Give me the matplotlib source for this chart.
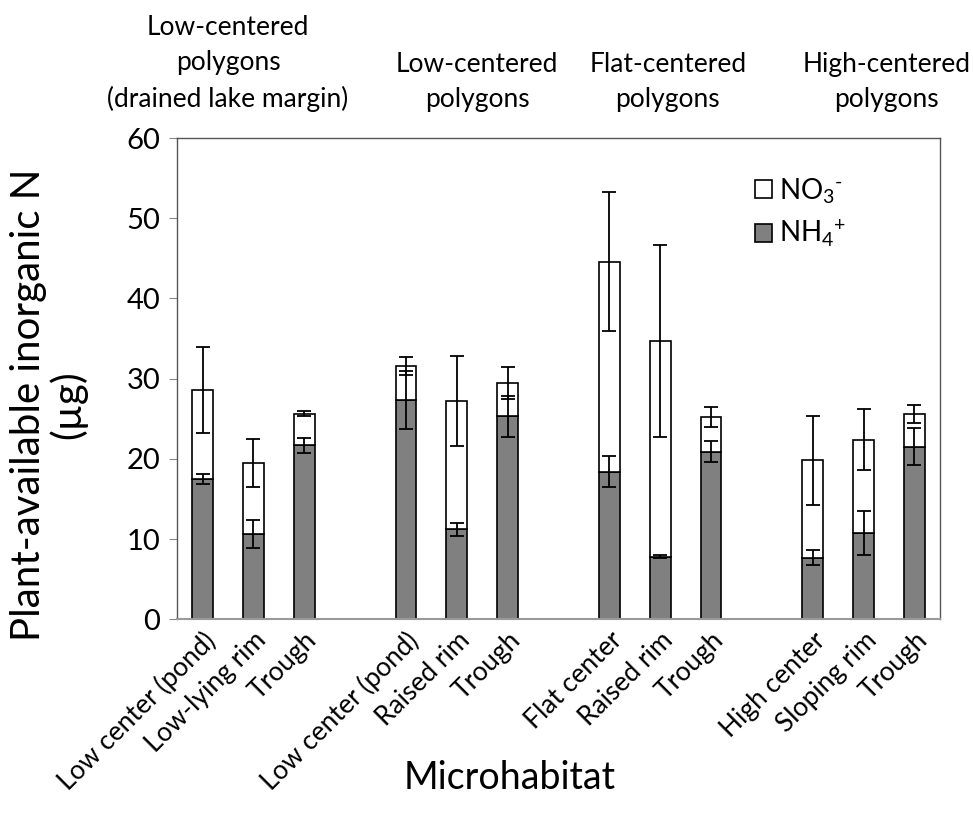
import matplotlib
matplotlib.use("Agg")
import matplotlib.pyplot as plt
import numpy as np

plt.rcParams['font.family'] = ['Lato', 'DejaVu Sans']
plt.rcParams['mathtext.fontset'] = 'custom'
plt.rcParams['mathtext.rm'] = 'Lato'
plt.rcParams['mathtext.it'] = 'Lato'

# data
microhabitats = ["Low center (pond)", "Low-lying rim", "Trough",
                 "Low center (pond)", "Raised rim", "Trough",
                 "Flat center", "Raised rim", "Trough",
                 "High center", "Sloping rim", "Trough"]
groups = ["Low-centered\npolygons\n(drained lake margin)",
          "Low-centered\npolygons",
          "Flat-centered\npolygons",
          "High-centered\npolygons"]
nh4 = [17.5, 10.6, 21.7, 27.3, 11.2, 25.3, 18.4, 7.8, 20.9, 7.7, 10.8, 21.5]
nh4_err = [0.65, 1.75, 0.93, 3.6, 0.8, 2.6, 1.9, 0.2, 1.3, 0.95, 2.75, 2.3]
total = [28.6, 19.5, 25.65, 31.6, 27.2, 29.5, 44.6, 34.7, 25.2, 19.8, 22.4, 25.6]
total_err = [5.35, 2.95, 0.35, 1.1, 5.6, 2.0, 8.7, 12.0, 1.25, 5.6, 3.8, 1.1]

no3 = np.array(total) - np.array(nh4)
x = np.array([0, 1, 2, 4, 5, 6, 8, 9, 10, 12, 13, 14])

fig = plt.figure(figsize=(9.73, 8.17), dpi=100)
ax = fig.add_axes([0.182, 0.242, 0.784, 0.589])

w = 0.41
ax.bar(x, nh4, w, color="#808080", edgecolor="black", linewidth=1.2,
       label="NH$_4$$^{+}$", zorder=2)
ax.bar(x, no3, w, bottom=nh4, color="white", edgecolor="black", linewidth=1.2,
       label="NO$_3$$^{\\text{-}}$", zorder=2)
ax.errorbar(x, nh4, yerr=nh4_err, fmt="none", ecolor="black", elinewidth=1.3,
            capsize=5, capthick=1.3, zorder=3)
ax.errorbar(x, total, yerr=total_err, fmt="none", ecolor="black", elinewidth=1.3,
            capsize=5, capthick=1.3, zorder=3)

ax.set_xlim(-0.5, 14.5)
ax.set_ylim(0, 60)
ax.set_yticks(range(0, 61, 10))
ax.set_xticks(x)
ax.set_xticklabels(microhabitats, rotation=45, ha="right", rotation_mode="anchor",
                   fontsize=19)
ax.tick_params(axis="x", length=0, pad=6)
ax.tick_params(axis="y", labelsize=21, length=6, color="#888888", direction="out", pad=6)
for s in ax.spines.values():
    s.set_color("#555555")
    s.set_linewidth(1.0)
ax.spines["bottom"].set_color("#999999")
ax.spines["bottom"].set_linewidth(1.5)

fig.text(0.05, 0.505, "Plant-available inorganic N\n(\u00b5g)", rotation=90,
         ha="center", va="center", fontsize=29, linespacing=1.05)
fig.text(0.524, 0.048, "Microhabitat", ha="center", va="center", fontsize=27)

# group headings sit a bit off the group centres in the original
group_pos = [0.5, 5.4, 9.15, 13.45]
for gx, g in zip(group_pos, groups):
    ax.text(gx, 1.055, g, transform=ax.get_xaxis_transform(), ha="center",
            va="bottom", fontsize=19, linespacing=1.5)

h, l = ax.get_legend_handles_labels()
ax.legend(h[::-1], l[::-1], loc="upper left", bbox_to_anchor=(0.74, 0.95),
          frameon=False, fontsize=20, handlelength=0.6, handleheight=0.6,
          handletextpad=0.25, labelspacing=0.45, borderpad=0.0)

fig.savefig("out.png", dpi=100)
